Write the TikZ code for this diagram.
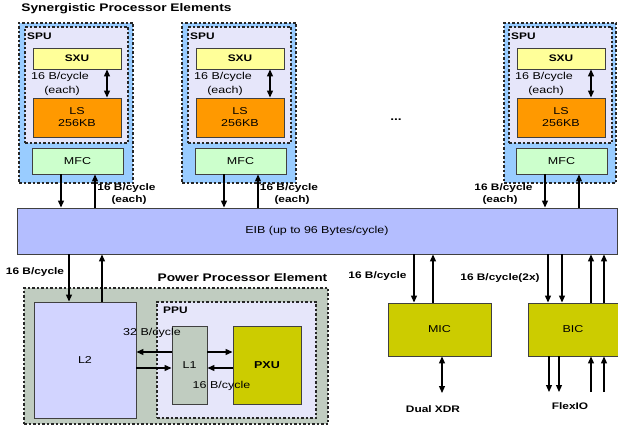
\documentclass[tikz,border=0pt]{standalone}
\usepackage{fontspec}
\setmainfont{Liberation Sans}[FakeStretch=1.25]
\usetikzlibrary{arrows.meta}

\definecolor{speblue}{RGB}{153,204,255}
\definecolor{spulav}{RGB}{230,230,250}
\definecolor{sxuyel}{RGB}{255,255,153}
\definecolor{lsorange}{RGB}{255,153,0}
\definecolor{mfcgreen}{RGB}{204,255,204}
\definecolor{eibblue}{RGB}{180,190,255}
\definecolor{ppesage}{RGB}{192,204,192}
\definecolor{l2lav}{RGB}{210,212,255}
\definecolor{olive}{RGB}{204,204,0}
\definecolor{boxline}{RGB}{64,64,64}

\begin{document}
\begin{tikzpicture}[x=1pt,y=-1pt,
  box/.style={draw=boxline,line width=0.9pt,rectangle,inner sep=0pt,align=center,font=\fontsize{10}{12}\selectfont},
  group/.style={draw=black!85,dash pattern=on 2.5pt off 2pt,line width=1.1pt,rectangle,inner sep=0pt},
  lbl/.style={font=\fontsize{10}{12}\selectfont},
  bw/.style={font=\bfseries\fontsize{9.5}{11}\selectfont},
  title/.style={font=\bfseries\fontsize{11}{13}\selectfont},
  link/.style={-{Triangle[length=7pt,width=6pt]},line width=1.2pt},
  dlink/.style={{Triangle[length=7pt,width=6pt]}-{Triangle[length=7pt,width=6pt]},line width=1.2pt}]
\useasboundingbox[fill=white] (0,0) rectangle (618,427);

\node[title] (spetitle) at (126.5,9) {Synergistic Processor Elements};

\node[group,fill=speblue,minimum width=114pt,minimum height=160pt] (speA) at (76,103) {};
\node[group,fill=spulav,minimum width=103pt,minimum height=116pt] (spuA) at (76.5,85) {};
\node[bw,anchor=west,inner sep=0pt] (spuAlbl) at (27,36) {SPU};
\node[box,fill=sxuyel,minimum width=88pt,minimum height=21pt,font=\bfseries\fontsize{9.5}{11}\selectfont] (sxuA) at (77,58.5) {SXU};
\node[box,fill=lsorange,minimum width=88pt,minimum height=39pt] (lsA) at (77,117.5) {LS\\256KB};
\node[box,fill=mfcgreen,minimum width=91pt,minimum height=26pt] (mfcA) at (77.5,161) {MFC};
\node[lbl] (bwA) at (60,77) {16 B/cycle};
\node[lbl] (eachA) at (62,91) {(each)};
\draw[dlink] ([xshift=30pt]sxuA.south) -- ([xshift=30pt]lsA.north);

\node[group,fill=speblue,minimum width=114pt,minimum height=160pt] (speB) at (239,103) {};
\node[group,fill=spulav,minimum width=103pt,minimum height=116pt] (spuB) at (239.5,85) {};
\node[bw,anchor=west,inner sep=0pt] (spuBlbl) at (190,36) {SPU};
\node[box,fill=sxuyel,minimum width=88pt,minimum height=21pt,font=\bfseries\fontsize{9.5}{11}\selectfont] (sxuB) at (240,58.5) {SXU};
\node[box,fill=lsorange,minimum width=88pt,minimum height=39pt] (lsB) at (240,117.5) {LS\\256KB};
\node[box,fill=mfcgreen,minimum width=91pt,minimum height=26pt] (mfcB) at (240.5,161) {MFC};
\node[lbl] (bwB) at (223,77) {16 B/cycle};
\node[lbl] (eachB) at (225,91) {(each)};
\draw[dlink] ([xshift=30pt]sxuB.south) -- ([xshift=30pt]lsB.north);

\node[font=\bfseries\fontsize{11}{13}\selectfont] (dots) at (396,120) {...};

\node[group,fill=speblue,minimum width=112pt,minimum height=160pt] (speC) at (560,103) {};
\node[group,fill=spulav,minimum width=103pt,minimum height=116pt] (spuC) at (560.5,85) {};
\node[bw,anchor=west,inner sep=0pt] (spuClbl) at (511,36) {SPU};
\node[box,fill=sxuyel,minimum width=88pt,minimum height=21pt,font=\bfseries\fontsize{9.5}{11}\selectfont] (sxuC) at (561,58.5) {SXU};
\node[box,fill=lsorange,minimum width=88pt,minimum height=39pt] (lsC) at (561,117.5) {LS\\256KB};
\node[box,fill=mfcgreen,minimum width=91pt,minimum height=26pt] (mfcC) at (561.5,161) {MFC};
\node[lbl] (bwC) at (544,77) {16 B/cycle};
\node[lbl] (eachC) at (546,91) {(each)};
\draw[dlink] ([xshift=30pt]sxuC.south) -- ([xshift=30pt]lsC.north);

\node[box,fill=eibblue,minimum width=600pt,minimum height=46pt,text width=600pt,align=center] (eib) at (317,231) {EIB (up to 96 Bytes/cycle)\hspace*{18pt}};

\draw[link] ([xshift=-16.5pt]mfcA.south) -- ([xshift=-16.5pt]mfcA.south |- eib.north);
\draw[link] ([xshift=17.5pt]mfcA.south |- eib.north) -- ([xshift=17.5pt]mfcA.south);
\node[bw] (mfcAbw) at (126.5,188) {16 B/cycle};
\node[bw] (mfcAeach) at (129,200) {(each)};
\draw[link] ([xshift=-16.5pt]mfcB.south) -- ([xshift=-16.5pt]mfcB.south |- eib.north);
\draw[link] ([xshift=17.5pt]mfcB.south |- eib.north) -- ([xshift=17.5pt]mfcB.south);
\node[bw] (mfcBbw) at (289,188) {16 B/cycle};
\node[bw] (mfcBeach) at (292,200) {(each)};
\draw[link] ([xshift=-16.5pt]mfcC.south) -- ([xshift=-16.5pt]mfcC.south |- eib.north);
\draw[link] ([xshift=17.5pt]mfcC.south |- eib.north) -- ([xshift=17.5pt]mfcC.south);
\node[bw] (mfcCbw) at (503.5,188) {16 B/cycle};
\node[bw] (mfcCeach) at (500,200) {(each)};

\node[title] (ppetitle) at (242.5,278) {Power Processor Element};
\node[group,fill=ppesage,minimum width=304pt,minimum height=136pt] (ppe) at (176,356) {};
\node[box,fill=l2lav,minimum width=102pt,minimum height=116pt] (l2) at (85,360) {L2};
\node[group,fill=spulav,minimum width=159pt,minimum height=116pt] (ppu) at (236.5,360) {};
\node[bw,anchor=west,inner sep=0pt] (ppulbl) at (163,310) {PPU};
\node[box,fill=ppesage,minimum width=35pt,minimum height=78pt] (l1) at (189.5,365) {L1};
\node[box,fill=olive,minimum width=68pt,minimum height=78pt,font=\bfseries\fontsize{10}{12}\selectfont] (pxu) at (267,365) {PXU};

\draw[link] ([yshift=13pt]l1.west) -- ([yshift=13pt]l1.west -| l2.east);
\draw[link] ([yshift=-3pt]l1.west -| l2.east) -- ([yshift=-3pt]l1.west);
\draw[link] ([yshift=13pt]l1.east) -- ([yshift=13pt]pxu.west);
\draw[link] ([yshift=-3pt]pxu.west) -- ([yshift=-3pt]l1.east);
\node[lbl] (l1bw) at (152,333) {32 B/cycle};
\node[lbl] (pxubw) at (221.5,386) {16 B/cycle};

\draw[link] ([xshift=-16pt]l2.north |- eib.south) -- ([xshift=-16pt]l2.north);
\draw[link] ([xshift=17pt]l2.north) -- ([xshift=17pt]l2.north |- eib.south);
\node[bw] (l2bw) at (35,272) {16 B/cycle};

\node[box,fill=olive,minimum width=103pt,minimum height=53pt] (mic) at (439.5,329.5) {MIC};
\draw[link] ([xshift=-25.5pt]mic.north |- eib.south) -- ([xshift=-25.5pt]mic.north);
\draw[link] ([xshift=-6.5pt]mic.north) -- ([xshift=-6.5pt]mic.north |- eib.south);
\node[bw] (micbw) at (377.5,276) {16 B/cycle};
\coordinate (xdrend) at (442,393);
\draw[dlink] (xdrend |- mic.south) -- (xdrend);
\node[bw] (xdr) at (433,409) {Dual XDR};

\node[box,fill=olive,minimum width=90pt,minimum height=53pt] (bic) at (573,329.5) {BIC};
\draw[link] ([xshift=-25pt]bic.north |- eib.south) -- ([xshift=-25pt]bic.north);
\draw[link] ([xshift=-11pt]bic.north |- eib.south) -- ([xshift=-11pt]bic.north);
\draw[link] ([xshift=18pt]bic.north) -- ([xshift=18pt]bic.north |- eib.south);
\draw[link] ([xshift=31pt]bic.north) -- ([xshift=31pt]bic.north |- eib.south);
\node[bw] (bicbw) at (500,278) {16 B/cycle(2x)};
\coordinate (fioend) at (573,392);
\draw[link] ([xshift=-24pt]bic.south) -- ([xshift=-24pt]bic.south |- fioend);
\draw[link] ([xshift=-14pt]bic.south) -- ([xshift=-14pt]bic.south |- fioend);
\draw[link] ([xshift=18pt]bic.south |- fioend) -- ([xshift=18pt]bic.south);
\draw[link] ([xshift=31pt]bic.south |- fioend) -- ([xshift=31pt]bic.south);
\node[bw] (flexio) at (570,406) {FlexIO};
\end{tikzpicture}
\end{document}
